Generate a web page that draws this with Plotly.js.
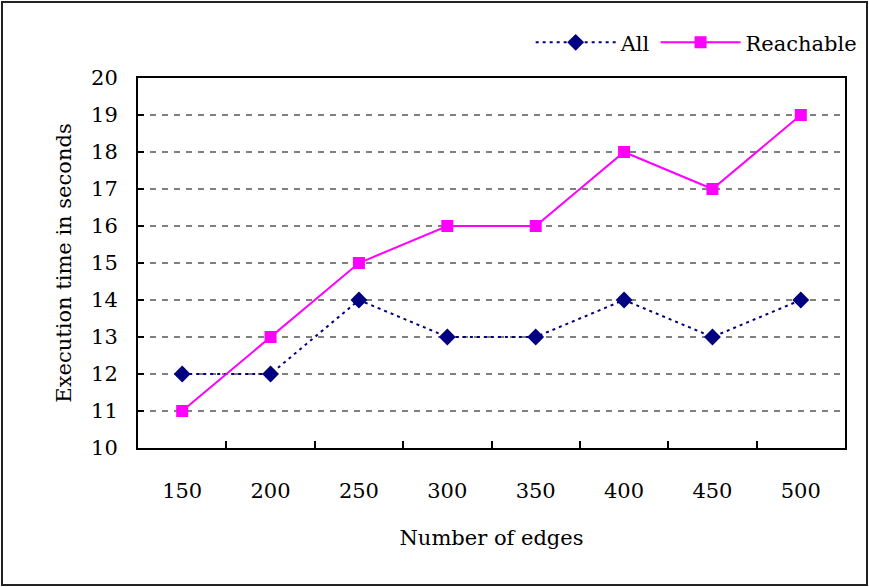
<!DOCTYPE html>
<html>
<head>
<meta charset="utf-8">
<script src="https://cdn.plot.ly/plotly-3.0.1.min.js"></script>
<style>
html,body{margin:0;padding:0;background:#fff;}
#wrap{position:relative;width:869px;height:587px;}
#chart{width:869px;height:587px;}
#frame{position:absolute;left:1px;top:1px;width:863px;height:581px;border:2px solid #222;pointer-events:none;}
</style>
</head>
<body>
<div id="wrap"><div id="chart"></div><div id="frame"></div></div>
<script>
var categories = ["150", "200", "250", "300", "350", "400", "450", "500"];
var allValues = [12, 12, 14, 13, 13, 14, 13, 14];
var reachableValues = [11, 13, 15, 16, 16, 18, 17, 19];
var yTickValues = [10, 11, 12, 13, 14, 15, 16, 17, 18, 19, 20];

var font = "DejaVu Serif, Liberation Serif, serif";
var fs = 21;

var traces = [
  {
    x: categories, y: allValues, name: "All", type: "scatter", mode: "lines+markers",
    line: {color: "#000080", width: 2, dash: "3px,4px"},
    marker: {symbol: "diamond", size: 13, color: "#000080"}
  },
  {
    x: categories, y: reachableValues, name: "Reachable", type: "scatter", mode: "lines+markers",
    line: {color: "#FF00FF", width: 2},
    marker: {symbol: "square", size: 12, color: "#FF00FF"}
  }
];

var layout = {
  width: 869, height: 587,
  margin: {l: 138, r: 24, t: 78, b: 139, autoexpand: false},
  paper_bgcolor: "#fff", plot_bgcolor: "#fff",
  font: {family: font, size: fs, color: "#000"},
  showlegend: true,
  legend: {
    orientation: "h", x: 1.025, xanchor: "right", y: 1.04, yanchor: "bottom",
    font: {family: font, size: fs, color: "#000"},
    itemwidth: 80, bgcolor: "rgba(0,0,0,0)", traceorder: "normal"
  },
  xaxis: {
    type: "category", range: [-0.5, 7.5], tickson: "boundaries",
    ticks: "inside", ticklen: 7, tickwidth: 2, tickcolor: "#000",
    showline: true, linecolor: "#000", linewidth: 2, mirror: true,
    showgrid: false, zeroline: false,
    ticklabelstandoff: 23,
    tickfont: {family: font, size: fs, color: "#000"},
    title: {text: "Number of edges", standoff: 28, font: {family: font, size: fs, color: "#000"}}
  },
  yaxis: {
    range: [10, 20], tickvals: yTickValues,
    ticks: "inside", ticklen: 6, tickwidth: 2, tickcolor: "#000",
    showline: true, linecolor: "#000", linewidth: 2, mirror: true,
    showgrid: true, gridcolor: "#808080", gridwidth: 1.5, griddash: "6px,6px",
    zeroline: false,
    ticklabelstandoff: 14,
    tickfont: {family: font, size: fs, color: "#000"},
    title: {text: "Execution time in seconds", standoff: 14, font: {family: font, size: fs, color: "#000"}}
  }
};

Plotly.newPlot("chart", traces, layout, {displayModeBar: false, staticPlot: true});
</script>
</body>
</html>
